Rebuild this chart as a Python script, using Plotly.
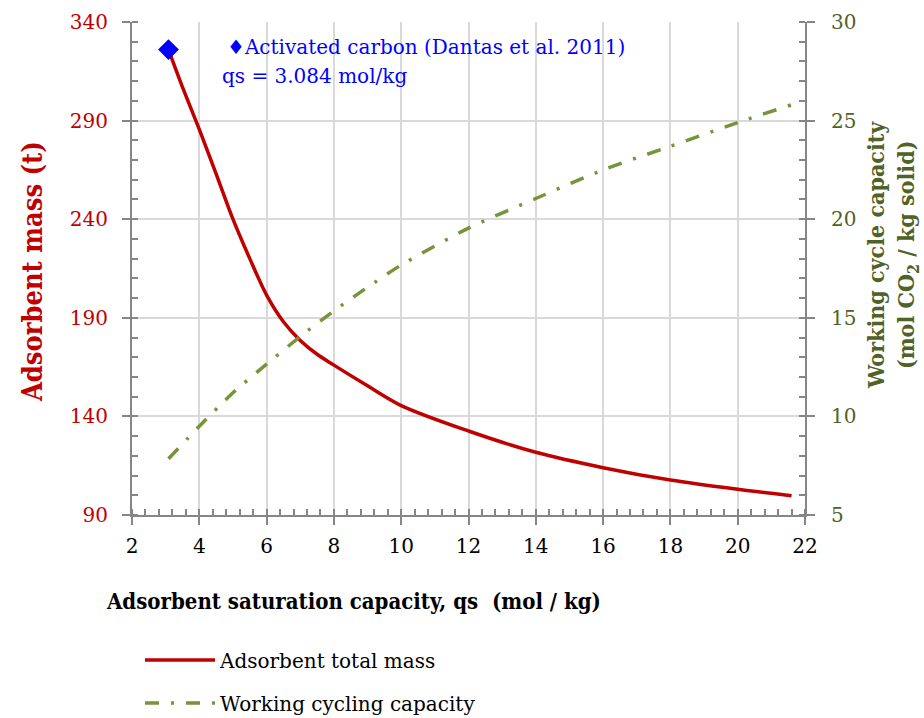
import plotly.graph_objects as go

# Adsorbent saturation capacity qs (mol/kg)
qs_mass = [3.084, 3.5, 4, 4.5, 5, 5.5, 6, 6.5, 7, 7.5, 8, 9, 10, 12, 14, 16, 18, 20, 21.6]
# Adsorbent total mass (t)
mass_t = [326.0, 307.0, 285.5, 263.0, 240.0, 220.0, 201.5, 188.0, 178.5, 171.5, 166.0,
          155.5, 145.5, 132.6, 121.8, 114.0, 107.7, 103.0, 99.8]

qs_cap = [3.084, 4, 5, 6, 7, 8, 9, 10, 12, 14, 16, 18, 20, 21.6]
# Working cycling capacity (mol CO2 / kg solid)
work_cap = [7.85, 9.5, 11.2, 12.65, 14.05, 15.35, 16.55, 17.68, 19.55, 21.05, 22.5, 23.7, 24.9, 25.8]

# Reference adsorbent: activated carbon
ac_qs = [3.084]
ac_mass = [326.0]

RED = "#C00000"
GREEN = "#77933C"
DKGREEN = "#4F6228"
AXIS = "#868686"
GRID = "#D9D9D9"
FONT = "DejaVu Serif"
BOLD = "DejaVu Serif Condensed, DejaVu Serif"

fig = go.Figure()
fig.add_trace(go.Scatter(
    x=qs_mass, y=mass_t, mode="lines", name="Adsorbent total mass",
    line=dict(color=RED, width=3.5, shape="spline", smoothing=0.9),
    yaxis="y", legend="legend",
))
fig.add_trace(go.Scatter(
    x=qs_cap, y=work_cap, mode="lines", name="Working cycling capacity",
    line=dict(color=GREEN, width=3.5, shape="spline", smoothing=0.6,
              dash="14px,12px,3px,12px"),
    yaxis="y2", legend="legend2",
))
fig.add_trace(go.Scatter(
    x=ac_qs, y=ac_mass, mode="markers", showlegend=False,
    marker=dict(symbol="diamond", size=16, color="#0000FF"),
    yaxis="y",
))

# plot area in pixels: x 132..805, y 22..515
def px(xp):
    return (xp - 132) / 673

def py(yp):
    return (515 - yp) / 493

fig.add_annotation(
    xref="paper", yref="paper", x=px(225), y=py(47),
    xanchor="left", yanchor="middle", showarrow=False, align="left",
    text="♦Activated carbon (Dantas et al. 2011)",
    font=dict(family=FONT, size=20, color="#0000FF"),
)
fig.add_annotation(
    xref="paper", yref="paper", x=px(220), y=py(76),
    xanchor="left", yanchor="middle", showarrow=False, align="left",
    text="qs = 3.084 mol/kg",
    font=dict(family=FONT, size=20, color="#0000FF"),
)
# axis titles
fig.add_annotation(
    xref="paper", yref="paper", x=px(104), y=py(601),
    xanchor="left", yanchor="middle", showarrow=False,
    text="Adsorbent saturation capacity, qs  (mol / kg)",
    font=dict(family=BOLD, size=22, color="black", weight="bold"),
)
fig.add_annotation(
    xref="paper", yref="paper", x=px(32), y=py(272),
    xanchor="center", yanchor="middle", showarrow=False, textangle=-90,
    text="Adsorbent mass (t)",
    font=dict(family=BOLD, size=27, color=RED, weight="bold"),
)
fig.add_annotation(
    xref="paper", yref="paper", x=px(893), y=py(255),
    xanchor="center", yanchor="middle", showarrow=False, textangle=-90,
    text="Working cycle capacity<br>(mol CO<sub>2</sub> / kg solid)",
    font=dict(family=BOLD, size=23, color=DKGREEN, weight="bold"),
)

common_axis = dict(
    showline=True, linecolor=AXIS, linewidth=2,
    ticks="outside", ticklen=8, tickwidth=2, tickcolor=AXIS,
    zeroline=False,
)

fig.update_layout(
    width=924, height=718,
    margin=dict(l=132, r=119, t=22, b=203, autoexpand=False),
    paper_bgcolor="white", plot_bgcolor="white",
    font=dict(family=FONT, size=20, color="black"),
    xaxis=dict(
        range=[2, 22], dtick=2, tick0=2,
        showgrid=True, gridcolor=GRID, gridwidth=1.5,
        tickfont=dict(size=20, color="black"), ticklabelstandoff=4,
        minor=dict(dtick=0.4, tick0=2, ticks="inside", ticklen=6, tickwidth=1.5,
                   tickcolor=AXIS, showgrid=False),
        **common_axis,
    ),
    yaxis=dict(
        range=[90, 340], dtick=50, tick0=90,
        showgrid=True, gridcolor=GRID, gridwidth=1.5,
        tickfont=dict(size=20, color=RED), ticklabelstandoff=10,
        minor=dict(dtick=10, tick0=90, ticks="inside", ticklen=6, tickwidth=1.5,
                   tickcolor=AXIS, showgrid=False),
        **common_axis,
    ),
    yaxis2=dict(
        range=[5, 30], dtick=5, tick0=5, overlaying="y", side="right",
        showgrid=False,
        tickfont=dict(size=20, color=DKGREEN), ticklabelstandoff=12,
        minor=dict(dtick=1, tick0=5, ticks="inside", ticklen=6, tickwidth=1.5,
                   tickcolor=AXIS, showgrid=False),
        **common_axis,
    ),
    legend=dict(
        x=px(140), y=py(660), xanchor="left", yanchor="middle",
        font=dict(size=20, color="black"), itemwidth=70, bgcolor="rgba(0,0,0,0)",
    ),
    legend2=dict(
        x=px(140), y=py(703), xanchor="left", yanchor="middle",
        font=dict(size=20, color="black"), itemwidth=70, bgcolor="rgba(0,0,0,0)",
    ),
)

fig.write_html("out.html")
